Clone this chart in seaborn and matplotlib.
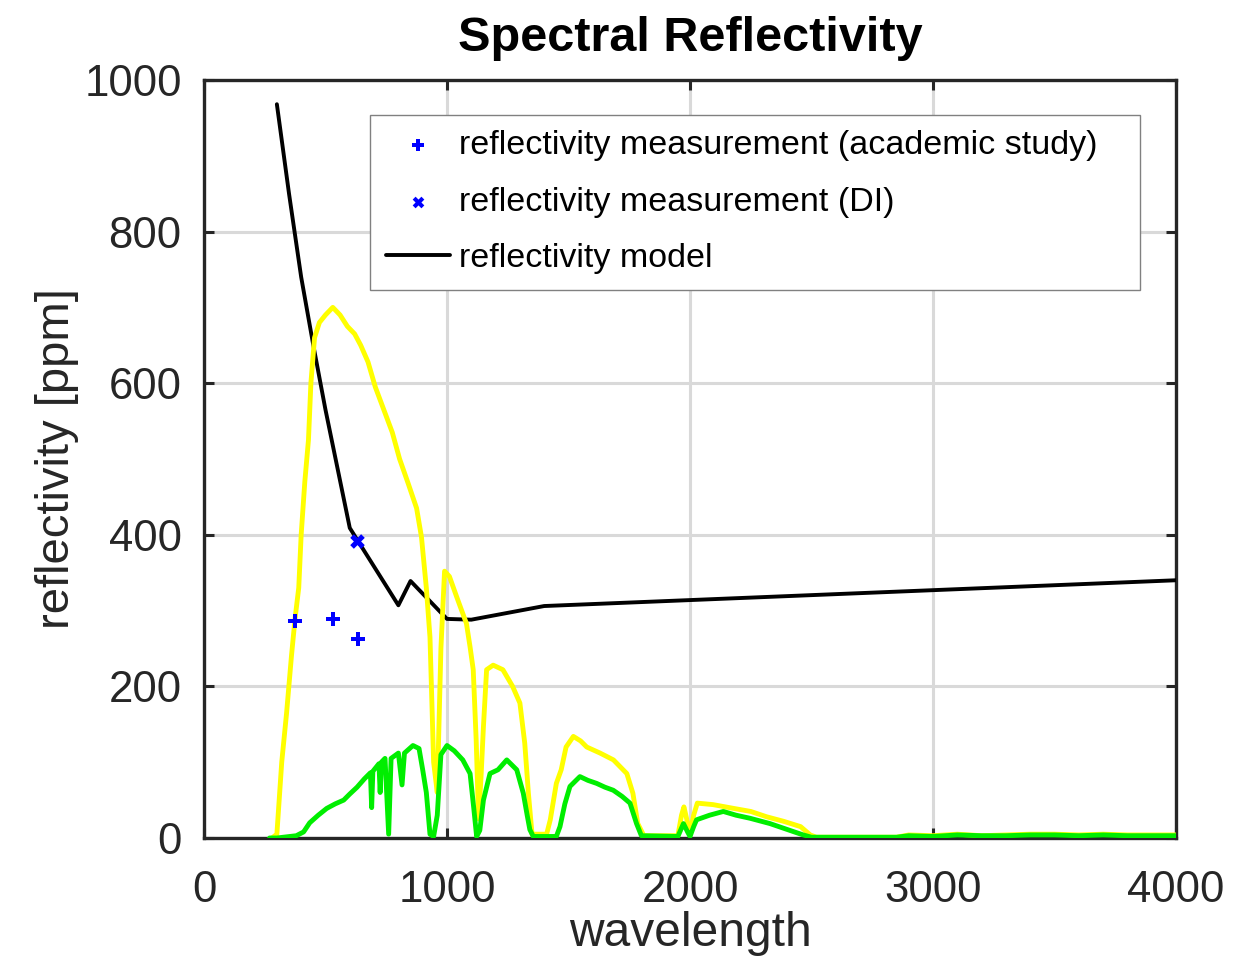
import numpy as np
import pandas as pd
import matplotlib
matplotlib.use("Agg")
import matplotlib.pyplot as plt
import seaborn as sns

# Data
model_wl = [300, 350, 400, 450, 500, 550, 600, 800, 850, 1000, 1100, 1400, 4000]
model_val = [968, 850, 740, 650, 565, 487, 409, 307, 339, 289, 288, 306, 340]

academic_wl = [374, 531, 634]
academic_val = [286, 289, 263]

di_wl = [630]
di_val = [392]

yellow_wl = [280, 300, 320, 340, 360, 375, 390, 400, 415, 430, 440, 455, 475, 500,
             530, 560, 590, 620, 645, 675, 705, 740, 775, 805, 840,
             875, 895, 915, 930, 945, 960, 975, 990, 1010, 1040, 1080, 1095, 1108,
             1120, 1130, 1140, 1150, 1163, 1190, 1230, 1270, 1300, 1320, 1335, 1350,
             1410, 1425, 1450, 1470, 1490, 1520, 1550, 1575, 1630, 1685, 1740, 1765,
             1785, 1810, 1950, 1965, 1975, 1990, 2000, 2015, 2030, 2095, 2180, 2250,
             2315, 2385, 2455, 2495, 2520, 2850, 2900, 3000, 3100, 3200, 3300, 3400,
             3500, 3600, 3700, 3800, 3900, 4000]
yellow_val = [0, 5, 100, 165, 240, 290, 330, 400, 470, 525, 600, 660, 680, 690,
              700, 690, 675, 665, 650, 628, 595, 565, 535, 500, 468,
              435, 397, 330, 265, 100, 60, 250, 352, 345, 318, 283, 252, 222,
              130, 25, 80, 147, 222, 228, 222, 200, 178, 125, 59, 5,
              5, 24, 72, 90, 120, 134, 128, 120, 112, 103, 85, 59,
              19, 3, 3, 30, 41, 20, 6, 30, 46, 44, 39, 35,
              28, 22, 15, 4, 1, 1, 4, 3, 5, 3, 4, 5,
              5, 4, 5, 4, 4, 4]

green_wl = [270, 300, 380, 410, 435, 470, 505, 540, 575, 600, 630, 660, 685, 690,
            695, 720, 725, 730, 745, 760, 770, 800, 815, 825, 860, 885, 900, 915,
            930, 945, 960, 975, 1000, 1030, 1065, 1095, 1110, 1122, 1135, 1150,
            1177, 1210, 1246, 1287, 1314, 1330, 1341, 1355, 1450, 1465, 1485, 1506,
            1547, 1580, 1616, 1650, 1684, 1720, 1753, 1780, 1800, 1950, 1973, 1990,
            2000, 2015, 2027, 2080, 2137, 2190, 2247, 2329, 2411, 2466, 2500, 2850,
            2900, 3000, 3100, 3200, 3300, 3400, 3500, 3600, 3700, 3800, 3900, 4000]
green_val = [0, 0, 3, 8, 20, 30, 39, 45, 50, 58, 67, 78, 86, 40,
             88, 98, 60, 100, 105, 5, 105, 112, 70, 112, 122, 118, 90, 60,
             5, 2, 30, 110, 122, 115, 103, 85, 40, 2, 10, 50,
             85, 90, 103, 90, 59, 30, 11, 2, 2, 15, 45, 68,
             81, 76, 72, 67, 63, 55, 46, 19, 3, 2, 19, 8,
             2, 15, 24, 30, 35, 30, 26, 19, 10, 4, 1, 1,
             3, 2, 4, 3, 3, 4, 4, 3, 4, 3, 3, 3]

model_df = pd.DataFrame({"wavelength": model_wl, "reflectivity": model_val})
yellow_df = pd.DataFrame({"wavelength": yellow_wl, "reflectivity": yellow_val})
green_df = pd.DataFrame({"wavelength": green_wl, "reflectivity": green_val})
acad_df = pd.DataFrame({"wavelength": academic_wl, "reflectivity": academic_val})
di_df = pd.DataFrame({"wavelength": di_wl, "reflectivity": di_val})

sns.set_theme(style="whitegrid")
plt.rcParams['font.family'] = ['Liberation Sans', 'DejaVu Sans']

fig = plt.figure(figsize=(12.49, 9.6), dpi=100)
ax = fig.add_axes([0.1633, 0.1271, 0.7783, 0.7896])

sns.lineplot(data=model_df, x="wavelength", y="reflectivity", color="black", lw=2.8,
             ax=ax, label="reflectivity model", sort=False, estimator=None, zorder=3)
sns.lineplot(data=yellow_df, x="wavelength", y="reflectivity", color="#ffff00", lw=3.5,
             ax=ax, sort=False, estimator=None, legend=False, zorder=4)
sns.lineplot(data=green_df, x="wavelength", y="reflectivity", color="#00ee00", lw=3.5,
             ax=ax, sort=False, estimator=None, legend=False, zorder=5)
sns.scatterplot(data=acad_df, x="wavelength", y="reflectivity", marker="P", color="#0000ff",
                s=110, linewidth=0, ax=ax, label="reflectivity measurement (academic study)", zorder=6)
sns.scatterplot(data=di_df, x="wavelength", y="reflectivity", marker="X", color="#0000ff",
                s=110, linewidth=0, ax=ax, label="reflectivity measurement (DI)", zorder=6)

ax.set_xlim(0, 4000)
ax.set_ylim(0, 1000)
ax.set_xticks([0, 1000, 2000, 3000, 4000])
ax.set_yticks([0, 200, 400, 600, 800, 1000])
ax.grid(True, color="#d9d9d9", lw=2.2)
for s in ax.spines.values():
    s.set_color("#262626")
    s.set_linewidth(2.4)
ax.tick_params(axis="both", which="both", direction="in", length=7, width=2.2,
               color="#262626", labelsize=31.5, labelcolor="#262626",
               top=True, right=True, bottom=True, left=True)
ax.tick_params(axis="y", pad=16)
ax.tick_params(axis="x", pad=23)
ax.set_xlabel("wavelength", fontsize=34.5, color="#262626", labelpad=0)
ax.set_ylabel("reflectivity [ppm]", fontsize=34, color="#262626", labelpad=4)
ax.set_title("Spectral Reflectivity", fontsize=35, fontweight="bold", color="black", pad=21)

handles, labels = ax.get_legend_handles_labels()
order = [labels.index("reflectivity measurement (academic study)"),
         labels.index("reflectivity measurement (DI)"),
         labels.index("reflectivity model")]
leg = ax.legend([handles[i] for i in order], [labels[i] for i in order],
                loc="upper left", bbox_to_anchor=(0.171, 0.7256, 0.792, 0.2284),
                mode="expand", borderaxespad=0,
                fontsize=24.5, frameon=True, fancybox=False, framealpha=1,
                edgecolor="#808080", handlelength=1.9, handletextpad=0.25,
                labelspacing=0.75, borderpad=0.45, markerscale=0.8, labelcolor="black")
leg.get_frame().set_linewidth(1.0)

fig.savefig("out.png", dpi=100)
